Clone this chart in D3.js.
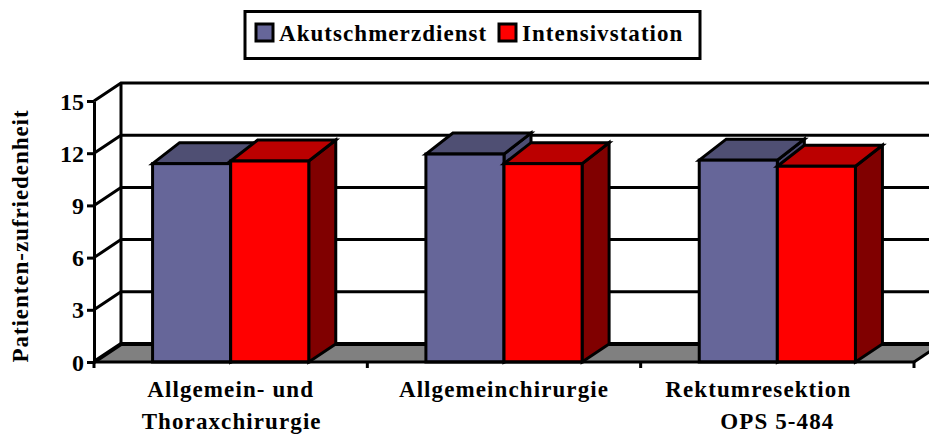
<!DOCTYPE html>
<html><head><meta charset="utf-8">
<script src="https://cdn.jsdelivr.net/npm/d3@7"></script>
<style>
html,body{margin:0;padding:0;background:#fff}
svg{display:block}
text{font-family:"Liberation Serif",serif;font-weight:bold;fill:#000}
</style></head><body>
<svg id="c" width="929" height="434"></svg>
<script>
const categories = ["Allgemein- und Thoraxchirurgie","Allgemeinchirurgie","Rektumresektion OPS 5-484"];
const seriesNames = ["Akutschmerzdienst","Intensivstation"];
const akutschmerzdienst = [11.4,11.95,11.6];
const intensivstation = [11.55,11.4,11.25];
const yTicks = [0,3,6,9,12,15];
const yTitle = "Patienten-zufriedenheit";

const svg = d3.select("#c");
const W=929, front={l:94,r:914,b:362,t:101}, dx=27, dy=-18, topDy=-21, sw=3;
const y = d3.scaleLinear().domain([0,15]).range([front.b,front.t]);
const x = d3.scaleBand().domain(categories).range([front.l,front.r]);
const inner = d3.scaleBand().domain(seriesNames).range([0,x.bandwidth()]).paddingInner(0).paddingOuter(0.75);
const colors = d3.scaleOrdinal().domain(seriesNames).range(["#666699","#ff0000"]);
const tops = d3.scaleOrdinal().domain(seriesNames).range(["#4f4f73","#bb0000"]);
const sides = d3.scaleOrdinal().domain(seriesNames).range(["#4c4c73","#800000"]);
const poly = p => p.map(d=>d.join(",")).join(" ");

// floor
svg.append("polygon").attr("fill","#808080")
  .attr("points",poly([[front.l,front.b],[front.l+dx,front.b+dy],[front.r+dx,front.b+dy],[front.r,front.b]]));
// walls and gridlines
const wall = svg.append("g").attr("stroke","#000").attr("stroke-width",sw).attr("fill","none");
wall.selectAll("path.g").data(yTicks).join("path").attr("class","g")
  .attr("d",d=>`M${front.l},${y(d)}L${front.l+dx},${y(d)+dy}L${W+5},${y(d)+dy}`)
  .attr("stroke-width",d=>d===0?4:sw);
wall.append("path").attr("d",`M${front.l+dx},${front.b+dy}V${front.t+dy}`);
wall.append("path").attr("d",`M${front.r},${front.b}L${front.r+dx},${front.b+dy}`);

// bars
const rows = categories.flatMap((c,i)=>[
  {c,s:seriesNames[0],v:akutschmerzdienst[i]},
  {c,s:seriesNames[1],v:intensivstation[i]}]);
const bars = svg.append("g").attr("stroke","#000").attr("stroke-width",sw).attr("stroke-linejoin","miter")
  .selectAll("g").data(rows).join("g");
const X0 = d=>x(d.c)+inner(d.s), X1 = d=>X0(d)+inner.bandwidth();
bars.append("polygon").attr("fill",d=>sides(d.s))
  .attr("points",d=>poly([[X1(d),y(d.v)],[X1(d)+dx,y(d.v)+topDy],[X1(d)+dx,y(0)+dy],[X1(d),y(0)]]));
bars.append("polygon").attr("fill",d=>tops(d.s))
  .attr("points",d=>poly([[X0(d),y(d.v)],[X0(d)+dx,y(d.v)+topDy],[X1(d)+dx,y(d.v)+topDy],[X1(d),y(d.v)]]));
bars.append("rect").attr("fill",d=>colors(d.s))
  .attr("x",X0).attr("y",d=>y(d.v)).attr("width",inner.bandwidth()).attr("height",d=>y(0)-y(d.v));

// y axis
const ax = svg.append("g").attr("transform",`translate(${front.l},0)`)
  .call(d3.axisLeft(y).tickValues(yTicks).tickSize(7).tickPadding(3).tickSizeOuter(0));
ax.selectAll("path,line").attr("stroke","#000").attr("stroke-width",sw);
ax.selectAll("text").style("font-family","Liberation Serif").style("font-size","24px").style("font-weight","bold").attr("fill","#000").attr("dy","0.34em");

// x axis
const xEdges = [...categories.map(c=>x(c)),front.r];
svg.append("line").attr("x1",front.l).attr("x2",front.r).attr("y1",front.b).attr("y2",front.b).attr("stroke","#000").attr("stroke-width",sw);
svg.selectAll("line.xt").data(xEdges).join("line").attr("class","xt")
  .attr("x1",d=>d).attr("x2",d=>d).attr("y1",front.b).attr("y2",front.b+6).attr("stroke","#000").attr("stroke-width",sw);

// category labels
const labelLines = [["Allgemein- und","Thoraxchirurgie"],["Allgemeinchirurgie",""],["Rektumresektion","OPS 5-484"]];
const labelShift = [[0,1],[0,0],[-19,0]];
categories.forEach((c,i)=>{
  labelLines[i].forEach((t,j)=>{
    if(!t) return;
    svg.append("text").attr("x",x(c)+x.bandwidth()/2+labelShift[i][j]).attr("y",397+j*32)
      .attr("text-anchor","middle").style("font-size","23px").style("letter-spacing","1.1px").text(t);
  });
});

// y title
svg.append("text").attr("transform","translate(28,236) rotate(-90)").attr("text-anchor","middle")
  .style("font-size","23px").style("letter-spacing","0.95px").text(yTitle);

// legend
const lg = svg.append("g");
lg.append("rect").attr("x",245).attr("y",11.5).attr("width",455).attr("height",47).attr("fill","#fff").attr("stroke","#000").attr("stroke-width",3);
const legendX = d3.scaleOrdinal().domain(seriesNames).range([256,499]);
const it = lg.selectAll("g").data(seriesNames).join("g").attr("transform",d=>`translate(${legendX(d)},24)`);
it.append("rect").attr("width",17).attr("height",17).attr("fill",d=>colors(d)).attr("stroke","#000").attr("stroke-width",sw);
it.append("text").attr("x",23).attr("y",17).style("font-size","23px").style("letter-spacing","1.05px").text(d=>d);
</script>
</body></html>
